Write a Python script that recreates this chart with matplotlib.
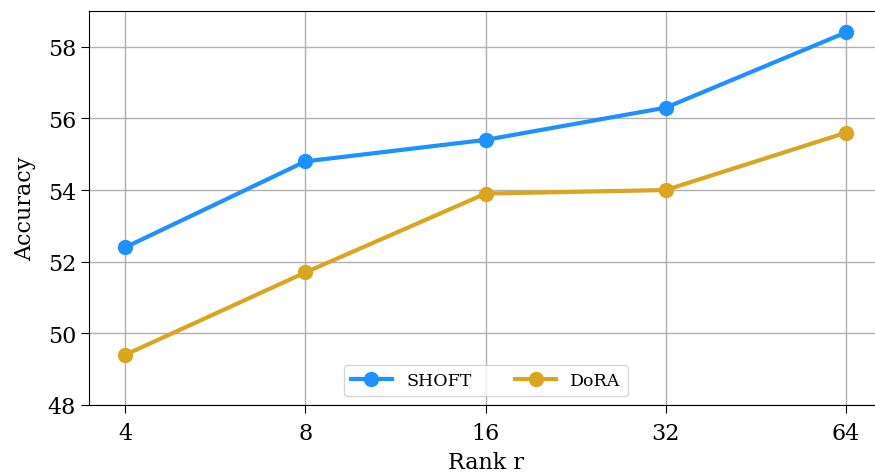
import matplotlib
matplotlib.use("Agg")
import matplotlib.pyplot as plt

ranks = ["4", "8", "16", "32", "64"]
shoft = [52.4, 54.8, 55.4, 56.3, 58.4]
dora = [49.4, 51.7, 53.9, 54.0, 55.6]

plt.rcParams['font.family'] = ['DejaVu Serif']
fig = plt.figure(figsize=(8.75, 4.77), dpi=100)
ax = fig.add_axes([0.102, 0.149, 0.906, 0.826])
x = list(range(len(ranks)))
ax.plot(x, shoft, '-o', color='#1E90FF', lw=3, ms=10, label='SHOFT')
ax.plot(x, dora, '-o', color='#DAA520', lw=3, ms=10, label='DoRA')
ax.set_xticks(x)
ax.set_xticklabels(ranks)
ax.set_xlim(-0.2, 4.2)
ax.set_ylim(48, 59)
ax.set_yticks([48, 50, 52, 54, 56, 58])
ax.tick_params(labelsize=16, length=6)
ax.tick_params(axis='x', pad=6)
ax.grid(True, color='#b0b0b0', lw=1.0)
ax.set_axisbelow(True)
ax.set_xlabel('Rank r', fontsize=16, labelpad=5)
ax.set_ylabel('Accuracy', fontsize=16, labelpad=8)
ax.legend(loc='lower center', ncol=2, fontsize=12.5, handlelength=2.4,
          columnspacing=2.5)
fig.savefig('out.png', dpi=100)
